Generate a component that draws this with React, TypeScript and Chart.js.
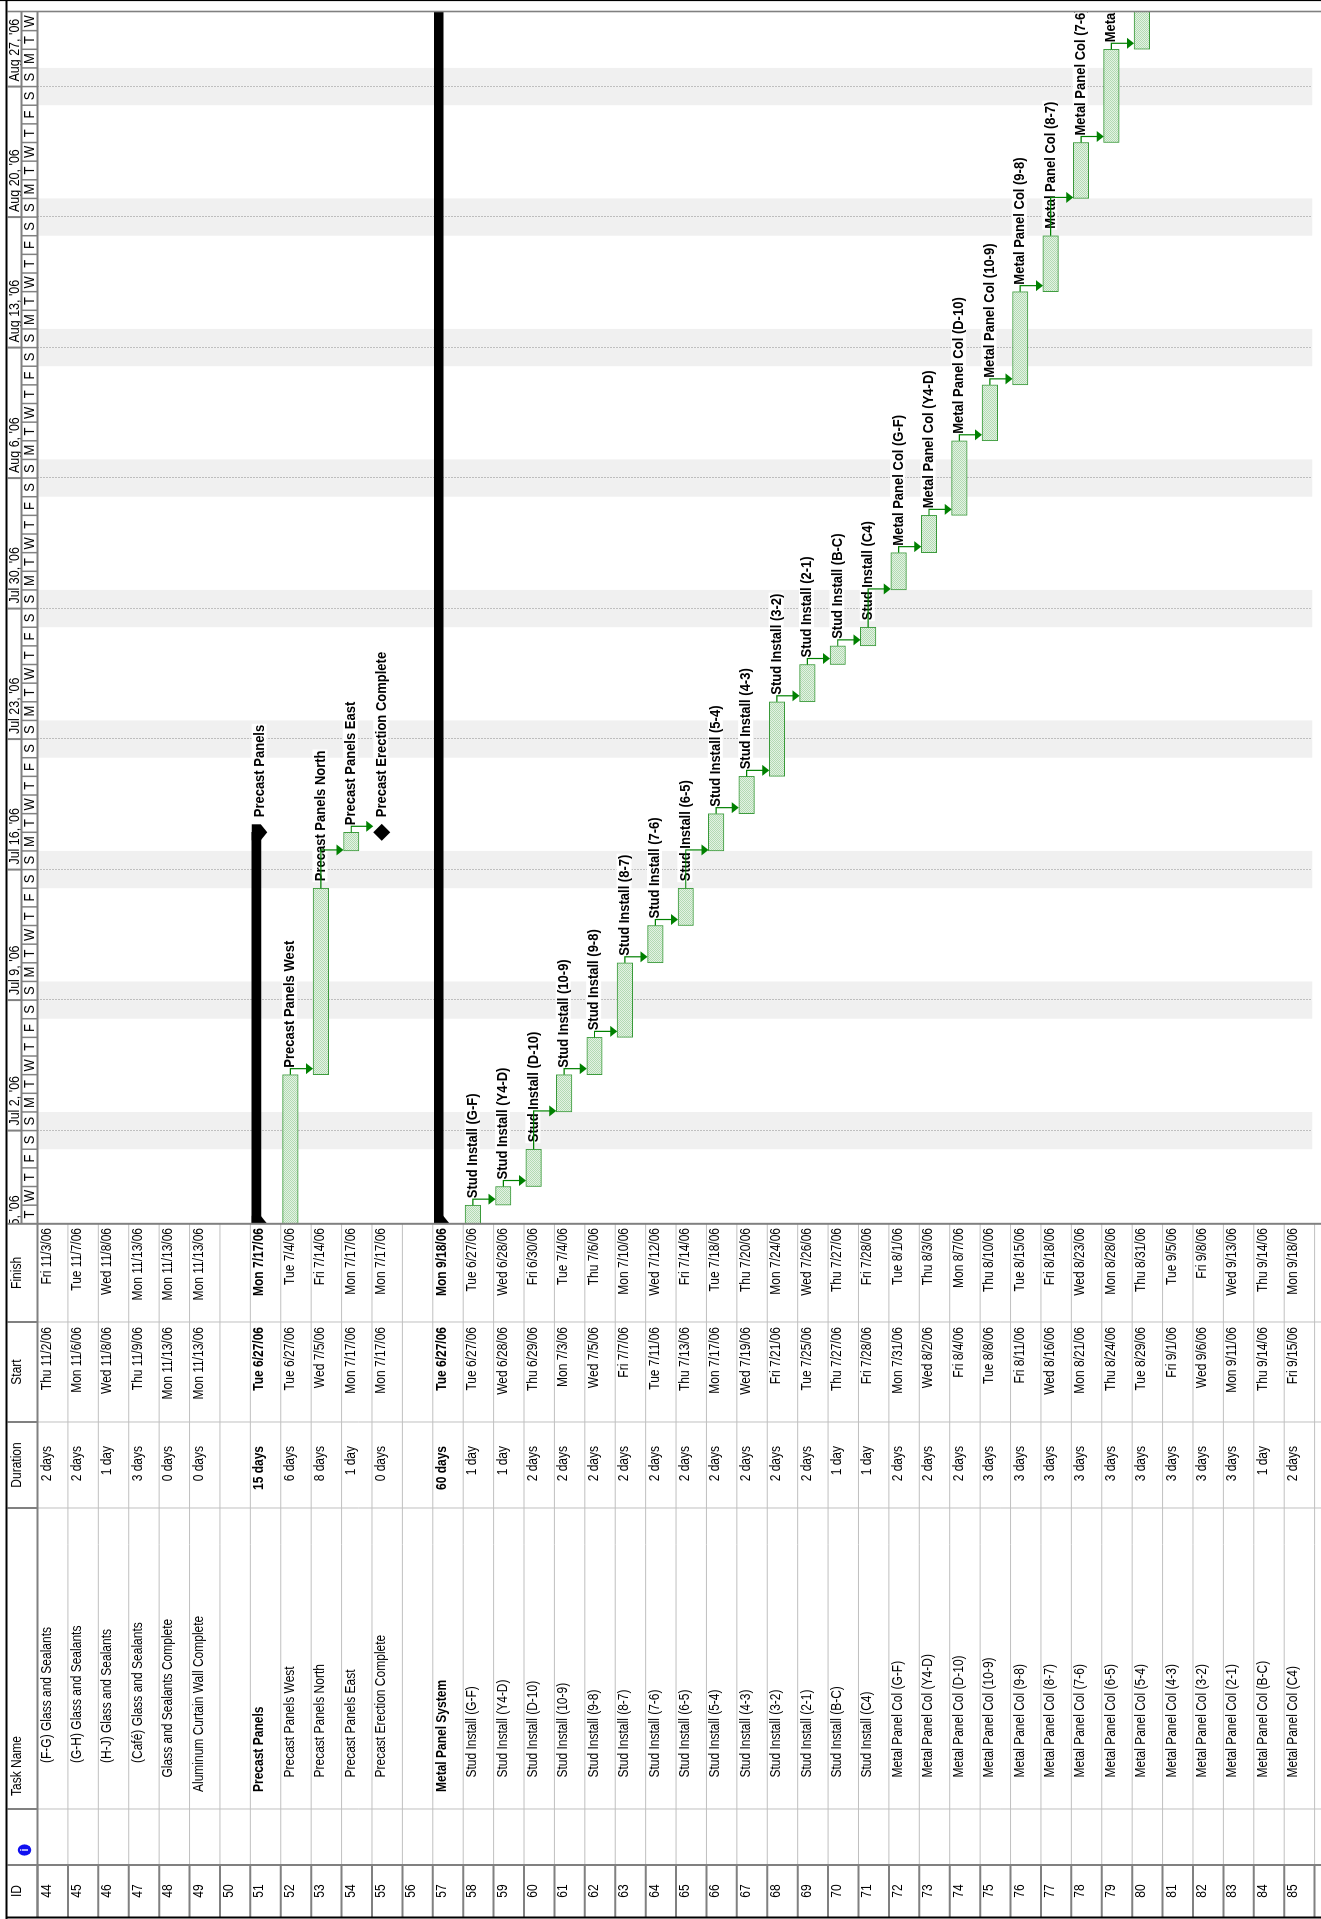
// App.tsx - rotated MS Project style Gantt sheet drawn with Chart.js
import { useEffect, useRef } from "react";
import { Chart, registerables } from "chart.js";

Chart.register(...registerables);

// ---- sheet data (one entry per table row) ----
const ids = [
  44, 45, 46, 47, 48, 49, 50, 51, 52, 53, 54, 55, 56, 57, 58, 59, 60, 61, 62, 63, 64,
  65, 66, 67, 68, 69, 70, 71, 72, 73, 74, 75, 76, 77, 78, 79, 80, 81, 82, 83, 84, 85,
];

const taskNames = [
  "(F-G) Glass and Sealants",
  "(G-H) Glass and Sealants",
  "(H-J) Glass and Sealants",
  "(Café) Glass and Sealants",
  "Glass and Sealants Complete",
  "Aluminum Curtain Wall Complete",
  "",
  "Precast Panels",
  "Precast Panels West",
  "Precast Panels North",
  "Precast Panels East",
  "Precast Erection Complete",
  "",
  "Metal Panel System",
  "Stud Install (G-F)",
  "Stud Install (Y4-D)",
  "Stud Install (D-10)",
  "Stud Install (10-9)",
  "Stud Install (9-8)",
  "Stud Install (8-7)",
  "Stud Install (7-6)",
  "Stud Install (6-5)",
  "Stud Install (5-4)",
  "Stud Install (4-3)",
  "Stud Install (3-2)",
  "Stud Install (2-1)",
  "Stud Install (B-C)",
  "Stud Install (C4)",
  "Metal Panel Col (G-F)",
  "Metal Panel Col (Y4-D)",
  "Metal Panel Col (D-10)",
  "Metal Panel Col (10-9)",
  "Metal Panel Col (9-8)",
  "Metal Panel Col (8-7)",
  "Metal Panel Col (7-6)",
  "Metal Panel Col (6-5)",
  "Metal Panel Col (5-4)",
  "Metal Panel Col (4-3)",
  "Metal Panel Col (3-2)",
  "Metal Panel Col (2-1)",
  "Metal Panel Col (B-C)",
  "Metal Panel Col (C4)",
];

const outlineLevels = [
  2, 2, 2, 2, 1, 0, 0, 0, 1, 1, 1, 1, 0, 0,
  1, 1, 1, 1, 1, 1, 1, 1, 1, 1, 1, 1, 1, 1,
  1, 1, 1, 1, 1, 1, 1, 1, 1, 1, 1, 1, 1, 1,
];

const taskKinds = [
  "task", "task", "task", "task", "milestone", "milestone", "", "summary",
  "task", "task", "task", "milestone", "", "summary",
  "task", "task", "task", "task", "task", "task", "task", "task", "task", "task", "task", "task", "task", "task",
  "task", "task", "task", "task", "task", "task", "task", "task", "task", "task", "task", "task", "task", "task",
];

const durations = [
  "2 days", "2 days", "1 day", "3 days", "0 days", "0 days", "", "15 days",
  "6 days", "8 days", "1 day", "0 days", "", "60 days",
  "1 day", "1 day", "2 days", "2 days", "2 days", "2 days", "2 days",
  "2 days", "2 days", "2 days", "2 days", "2 days", "1 day", "1 day",
  "2 days", "2 days", "2 days", "3 days", "3 days", "3 days", "3 days",
  "3 days", "3 days", "3 days", "3 days", "3 days", "1 day", "2 days",
];

const startDates = [
  "Thu 11/2/06", "Mon 11/6/06", "Wed 11/8/06", "Thu 11/9/06", "Mon 11/13/06", "Mon 11/13/06", "",
  "Tue 6/27/06", "Tue 6/27/06", "Wed 7/5/06", "Mon 7/17/06", "Mon 7/17/06", "", "Tue 6/27/06",
  "Tue 6/27/06", "Wed 6/28/06", "Thu 6/29/06", "Mon 7/3/06", "Wed 7/5/06", "Fri 7/7/06", "Tue 7/11/06",
  "Thu 7/13/06", "Mon 7/17/06", "Wed 7/19/06", "Fri 7/21/06", "Tue 7/25/06", "Thu 7/27/06", "Fri 7/28/06",
  "Mon 7/31/06", "Wed 8/2/06", "Fri 8/4/06", "Tue 8/8/06", "Fri 8/11/06", "Wed 8/16/06", "Mon 8/21/06",
  "Thu 8/24/06", "Tue 8/29/06", "Fri 9/1/06", "Wed 9/6/06", "Mon 9/11/06", "Thu 9/14/06", "Fri 9/15/06",
];

const finishDates = [
  "Fri 11/3/06", "Tue 11/7/06", "Wed 11/8/06", "Mon 11/13/06", "Mon 11/13/06", "Mon 11/13/06", "",
  "Mon 7/17/06", "Tue 7/4/06", "Fri 7/14/06", "Mon 7/17/06", "Mon 7/17/06", "", "Mon 9/18/06",
  "Tue 6/27/06", "Wed 6/28/06", "Fri 6/30/06", "Tue 7/4/06", "Thu 7/6/06", "Mon 7/10/06", "Wed 7/12/06",
  "Fri 7/14/06", "Tue 7/18/06", "Thu 7/20/06", "Mon 7/24/06", "Wed 7/26/06", "Thu 7/27/06", "Fri 7/28/06",
  "Tue 8/1/06", "Thu 8/3/06", "Mon 8/7/06", "Thu 8/10/06", "Tue 8/15/06", "Fri 8/18/06", "Wed 8/23/06",
  "Mon 8/28/06", "Thu 8/31/06", "Tue 9/5/06", "Fri 9/8/06", "Wed 9/13/06", "Thu 9/14/06", "Mon 9/18/06",
];

// finish-to-start links [predecessor, successor]
const links = [
  [52, 53], [53, 54], [54, 55],
  [58, 59], [59, 60], [60, 61], [61, 62], [62, 63], [63, 64], [64, 65], [65, 66],
  [66, 67], [67, 68], [68, 69], [69, 70], [70, 71], [71, 72], [72, 73], [73, 74],
  [74, 75], [75, 76], [76, 77], [77, 78], [78, 79], [79, 80], [80, 81], [81, 82],
  [82, 83], [83, 84], [84, 85],
];

const columnHeaders = ["ID", "", "Task Name", "Duration", "Start", "Finish"];
// timescale: weeks begin on Sunday, first visible day is Tue 6/27/06
const weekLabels = [
  "Jun 25, '06", "Jul 2, '06", "Jul 9, '06", "Jul 16, '06", "Jul 23, '06",
  "Jul 30, '06", "Aug 6, '06", "Aug 13, '06", "Aug 20, '06", "Aug 27, '06",
];
const dayLetters = ["S", "M", "T", "W", "T", "F", "S"];
const viewStart = "6/27/06";
const viewDays = 65;

// ---- layout (unrotated sheet, rotated -90deg on the page) ----
const SHEET_W = 1919;
const SHEET_H = 1321;
const HEADER_TOP = 7.5;
const ROW_TOP = 37.5;
const ROW_H = 30.61;
const TABLE_RIGHT = 695.2;
const BAR_POS = 0.3185; // bar centre inside a row
const SUM_POS = 0.196;
const FONT = '"Liberation Sans", Arial, sans-serif';
const STRETCH = 1.15;
const COLS = [2, 54, 110, 411, 497, 597, TABLE_RIGHT];

function dayOf(s: string) {
  const part = s.includes(" ") ? s.split(" ")[1] : s;
  const [m, d, y] = part.split("/").map(Number);
  const [m0, d0, y0] = viewStart.split("/").map(Number);
  return Math.round((Date.UTC(2000 + y, m - 1, d) - Date.UTC(2000 + y0, m0 - 1, d0)) / 86400000);
}
const weekday = (d: number) => (((d + 2) % 7) + 7) % 7; // day 0 is a Tuesday

const schedule = ids.map((_, i) => {
  if (!taskKinds[i]) return null;
  const s = dayOf(startDates[i]);
  const e = dayOf(finishDates[i]) + 1;
  return { kind: taskKinds[i], start: s, end: e, at: e };
});

function drawText(ctx: CanvasRenderingContext2D, str: string, x: number, y: number, font: string, align: CanvasTextAlign) {
  ctx.save();
  ctx.font = font;
  ctx.textAlign = align;
  ctx.textBaseline = "alphabetic";
  ctx.translate(x, y);
  ctx.scale(1, STRETCH);
  ctx.fillText(str, 0, 0);
  ctx.restore();
}

function line(ctx: CanvasRenderingContext2D, x1: number, y1: number, x2: number, y2: number, color: string, w: number) {
  ctx.strokeStyle = color;
  ctx.lineWidth = w;
  ctx.beginPath();
  ctx.moveTo(x1, y1);
  ctx.lineTo(x2, y2);
  ctx.stroke();
}

const ganttDecor = {
  id: "ganttDecor",
  beforeDraw(chart: any) {
    const { ctx, width, height } = chart;
    ctx.save();
    ctx.fillStyle = "#ffffff";
    ctx.fillRect(0, 0, width, height);
    ctx.restore();
  },
  beforeDatasetsDraw(chart: any) {
    const { ctx, chartArea: a } = chart;
    const x = chart.scales.x;
    ctx.save();
    ctx.beginPath();
    ctx.rect(a.left, a.top, a.right - a.left, a.bottom - a.top);
    ctx.clip();
    ctx.fillStyle = "#f0f0f0";
    for (let d = -2; d <= viewDays; d++) {
      const wd = weekday(d);
      if (wd === 6 || wd === 0) {
        const p0 = x.getPixelForValue(d);
        const p1 = x.getPixelForValue(d + 1);
        ctx.fillRect(p0, a.top, p1 - p0, a.bottom - a.top);
      }
    }
    ctx.setLineDash([1, 2]);
    for (let d = -2; d <= viewDays; d++) {
      if (weekday(d) === 0) {
        const p = Math.round(x.getPixelForValue(d)) + 0.5;
        line(ctx, p, a.top, p, a.bottom, "#8a8a8a", 1);
      }
    }
    ctx.restore();
  },
  afterDatasetsDraw(chart: any) {
    const { ctx, chartArea: a } = chart;
    const x = chart.scales.x;
    const y = chart.scales.y;
    ctx.save();
    ctx.beginPath();
    ctx.rect(a.left, a.top, a.right - a.left, a.bottom - a.top);
    ctx.clip();

    // summary end caps
    ctx.fillStyle = "#000000";
    schedule.forEach((t, i) => {
      if (!t || t.kind !== "summary") return;
      const c = y.getPixelForValue(i + SUM_POS);
      const top = c - 4.5;
      const bot = c + 4.5;
      [t.start, t.end].forEach((d) => {
        const u = x.getPixelForValue(d);
        ctx.beginPath();
        ctx.moveTo(u - 8, top);
        ctx.lineTo(u + 8, top);
        ctx.lineTo(u + 8, bot);
        ctx.lineTo(u, bot + 6.5);
        ctx.lineTo(u - 8, bot);
        ctx.closePath();
        ctx.fill();
      });
    });

    // bar labels
    const labelFont = `bold 13px ${FONT}`;
    schedule.forEach((t, i) => {
      if (!t) return;
      let u: number;
      if (t.kind === "task") u = x.getPixelForValue(t.end) + 7;
      else u = x.getPixelForValue(t.at) + 15;
      if (u > a.right) return;
      const base = y.getPixelForValue(i) + 13.6;
      ctx.font = labelFont;
      const w = ctx.measureText(taskNames[i]).width;
      ctx.fillStyle = "#ffffff";
      ctx.fillRect(u - 1, base - 12.3, w + 2, 15);
      ctx.fillStyle = "#000000";
      drawText(ctx, taskNames[i], u, base, labelFont, "left");
    });

    // finish-to-start connectors
    links.forEach(([fromId, toId]) => {
      const ia = ids.indexOf(fromId);
      const ib = ids.indexOf(toId);
      const A = schedule[ia];
      const B = schedule[ib];
      if (!A || !B) return;
      const aEnd = x.getPixelForValue(A.end);
      const aMid = y.getPixelForValue(ia + BAR_POS);
      let bStart: number;
      let bTop: number;
      if (B.kind === "milestone") {
        bStart = x.getPixelForValue(B.at);
        bTop = y.getPixelForValue(ib + BAR_POS) - 8.5;
      } else {
        bStart = x.getPixelForValue(B.start);
        bTop = y.getPixelForValue(ib + BAR_POS) - 7.75;
      }
      const uLink = Math.max(aEnd + 6, bStart + 1);
      ctx.strokeStyle = "#008000";
      ctx.lineWidth = 1.2;
      ctx.beginPath();
      ctx.moveTo(aEnd, aMid);
      ctx.lineTo(uLink, aMid);
      ctx.lineTo(uLink, bTop - 6);
      ctx.stroke();
      ctx.fillStyle = "#008000";
      ctx.beginPath();
      ctx.moveTo(uLink, bTop);
      ctx.lineTo(uLink - 5.5, bTop - 7);
      ctx.lineTo(uLink + 5.5, bTop - 7);
      ctx.closePath();
      ctx.fill();
    });
    ctx.restore();
  },
  afterDraw(chart: any) {
    const { ctx, chartArea: a } = chart;
    const x = chart.scales.x;
    const y = chart.scales.y;
    const dark = "#808080";
    const light = "#c0c0c0";
    const tierMid = 21.5;
    ctx.save();

    // ---- timescale header ----
    ctx.save();
    ctx.beginPath();
    ctx.rect(a.left, HEADER_TOP, a.right - a.left, ROW_TOP - HEADER_TOP);
    ctx.clip();
    ctx.fillStyle = "#000000";
    weekLabels.forEach((lab, k) => {
      const d = -2 + 7 * k;
      drawText(ctx, lab, x.getPixelForValue(d) + 5, 18.6, `12.5px ${FONT}`, "left");
      const p = x.getPixelForValue(d);
      line(ctx, p, HEADER_TOP, p, tierMid, dark, 2);
    });
    for (let d = 0; d < viewDays; d++) {
      const p0 = x.getPixelForValue(d);
      const p1 = x.getPixelForValue(d + 1);
      drawText(ctx, dayLetters[weekday(d)], (p0 + p1) / 2, 34.3, `13px ${FONT}`, "center");
      if (d > 0) line(ctx, p0, tierMid, p0, ROW_TOP, dark, 1.5);
    }
    ctx.restore();
    line(ctx, TABLE_RIGHT, tierMid, a.right, tierMid, dark, 2);

    // ---- table grid ----
    for (let i = 0; i <= ids.length; i++) {
      const v = y.getPixelForValue(i);
      if (v > SHEET_H + 1) break;
      line(ctx, COLS[1], v, TABLE_RIGHT, v, light, 1);
      line(ctx, COLS[0], v, COLS[1], v, dark, 2);
    }
    for (let c = 2; c < COLS.length - 1; c++) {
      line(ctx, COLS[c], ROW_TOP, COLS[c], SHEET_H, light, 1);
      line(ctx, COLS[c], HEADER_TOP, COLS[c], ROW_TOP, dark, 2);
    }
    line(ctx, COLS[1], HEADER_TOP, COLS[1], SHEET_H, dark, 2);
    line(ctx, TABLE_RIGHT, HEADER_TOP, TABLE_RIGHT, SHEET_H, dark, 2);
    line(ctx, COLS[0], ROW_TOP, a.right, ROW_TOP, dark, 2);
    line(ctx, a.right + 0.5, HEADER_TOP, a.right + 0.5, SHEET_H, dark, 1.6);

    // header captions
    ctx.fillStyle = "#000000";
    const hf = `12px ${FONT}`;
    drawText(ctx, columnHeaders[0], (COLS[0] + COLS[1]) / 2, 20.5, hf, "center");
    drawText(ctx, columnHeaders[2], 123, 20.5, hf, "left");
    drawText(ctx, columnHeaders[3], (COLS[3] + COLS[4]) / 2, 20.5, hf, "center");
    drawText(ctx, columnHeaders[4], (COLS[4] + COLS[5]) / 2, 20.5, hf, "center");
    drawText(ctx, columnHeaders[5], (COLS[5] + COLS[6]) / 2, 20.5, hf, "center");
    // indicator icon
    ctx.fillStyle = "#1010f0";
    ctx.beginPath();
    ctx.ellipse(69, 24.5, 5.6, 6.8, 0, 0, Math.PI * 2);
    ctx.fill();
    ctx.fillStyle = "#ffffff";
    drawText(ctx, "i", 69, 28.3, `bold 9px ${FONT}`, "center");

    // row cells
    ids.forEach((id, i) => {
      const base = y.getPixelForValue(i) + 13;
      if (base > SHEET_H + 12) return;
      const bold = taskKinds[i] === "summary";
      const f = `${bold ? "bold " : ""}12px ${FONT}`;
      ctx.fillStyle = "#000000";
      drawText(ctx, String(id), (COLS[0] + COLS[1]) / 2, base, `12px ${FONT}`, "center");
      if (taskNames[i]) drawText(ctx, taskNames[i], 127 + 14.5 * outlineLevels[i], base, f, "left");
      if (durations[i]) drawText(ctx, durations[i], 473, base, f, "right");
      if (startDates[i]) drawText(ctx, startDates[i], 592, base, f, "right");
      if (finishDates[i]) drawText(ctx, finishDates[i], 691, base, f, "right");
    });

    // outer frame
    line(ctx, 0, 6.5, SHEET_W, 6.5, "#000000", 2);
    line(ctx, 1.5, 6.5, 1.5, SHEET_H, "#000000", 2);
    line(ctx, SHEET_W - 0.5, 0, SHEET_W - 0.5, SHEET_H, "#000000", 1.2);
    ctx.restore();
  },
};

export default function App() {
  const canvasRef = useRef<HTMLCanvasElement | null>(null);

  useEffect(() => {
    document.body.style.margin = "0";
    if (!canvasRef.current) return;
    const ctx = canvasRef.current.getContext("2d");
    if (!ctx) return;

    // dotted light-green bar fill
    const tile = document.createElement("canvas");
    tile.width = 2;
    tile.height = 2;
    const tctx = tile.getContext("2d")!;
    tctx.fillStyle = "#e3f2e3";
    tctx.fillRect(0, 0, 2, 2);
    tctx.fillStyle = "#b3dab3";
    tctx.fillRect(0, 0, 1, 1);
    tctx.fillRect(1, 1, 1, 1);
    const hatch = ctx.createPattern(tile, "repeat") || "#cde8cd";

    const taskBars: any[] = [];
    const summaryBars: any[] = [];
    const milestonePoints: any[] = [];
    schedule.forEach((t, i) => {
      if (!t) return;
      if (t.kind === "task") taskBars.push({ x: [t.start, t.end], y: i + BAR_POS });
      if (t.kind === "summary") summaryBars.push({ x: [t.start, t.end], y: i + SUM_POS });
      if (t.kind === "milestone") milestonePoints.push({ x: t.at, y: i + BAR_POS });
    });

    const chart = new Chart(ctx, {
      type: "bar",
      data: {
        datasets: [
          {
            label: "Tasks",
            data: taskBars,
            backgroundColor: hatch,
            borderColor: "#3a9a3a",
            borderWidth: 1,
            borderSkipped: false,
            barThickness: 15.5,
            grouped: false,
            clip: 0,
          },
          {
            label: "Summary",
            data: summaryBars,
            backgroundColor: "#000000",
            borderWidth: 0,
            barThickness: 9,
            grouped: false,
            clip: 0,
          },
          {
            type: "scatter",
            label: "Milestones",
            data: milestonePoints,
            pointStyle: "rectRot",
            pointRadius: 8.5,
            backgroundColor: "#000000",
            borderWidth: 0,
            clip: 0,
          },
        ],
      } as any,
      options: {
        indexAxis: "y",
        responsive: false,
        animation: false,
        events: [],
        layout: { padding: { left: TABLE_RIGHT, right: 12, top: ROW_TOP, bottom: 0 } },
        plugins: { legend: { display: false }, tooltip: { enabled: false } },
        scales: {
          x: { type: "linear", min: 0, max: viewDays, offset: false, display: false },
          y: {
            type: "linear",
            min: 0,
            max: (SHEET_H - ROW_TOP) / ROW_H,
            reverse: true,
            offset: false,
            display: false,
          },
        },
      } as any,
      plugins: [ganttDecor],
    });

    return () => {
      chart.destroy();
    };
  }, []);

  return (
    <div style={{ position: "relative", width: SHEET_H, height: SHEET_W, overflow: "hidden", background: "#fff" }}>
      <div
        style={{
          position: "absolute",
          left: 0,
          top: 0,
          width: SHEET_W,
          height: SHEET_H,
          transformOrigin: "0 0",
          transform: `translateY(${SHEET_W}px) rotate(-90deg)`,
        }}
      >
        <canvas ref={canvasRef} width={SHEET_W} height={SHEET_H} style={{ display: "block", width: SHEET_W, height: SHEET_H }} />
      </div>
    </div>
  );
}
